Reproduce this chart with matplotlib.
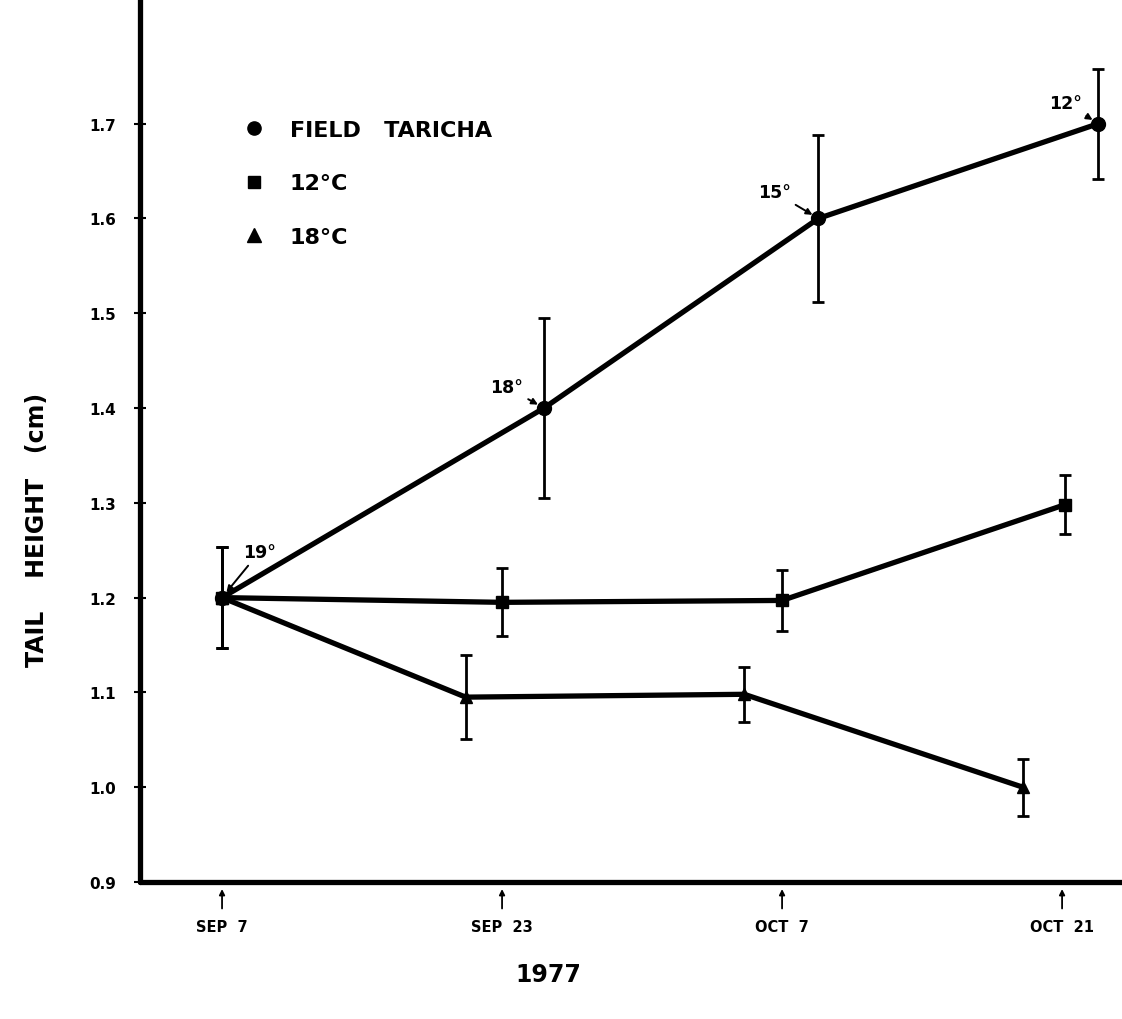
import matplotlib
matplotlib.use("Agg")
import matplotlib.pyplot as plt
from matplotlib.lines import Line2D
import matplotlib.transforms as mtransforms

# ---- data ----
tick_pos = [0, 1, 2, 3]
tick_labels = ["SEP  7", "SEP  23", "OCT  7", "OCT  21"]

field_x = [0.0, 1.15, 2.13, 3.13]
field_y = [1.20, 1.40, 1.60, 1.70]
field_err = [0.053, 0.095, 0.088, 0.058]
field_temps = ["19°", "18°", "15°", "12°"]

c12_x = [0.0, 1.0, 2.0, 3.01]
c12_y = [1.20, 1.195, 1.197, 1.298]
c12_err = [0.053, 0.036, 0.032, 0.031]

c18_x = [0.0, 0.87, 1.865, 2.86]
c18_y = [1.20, 1.095, 1.098, 1.00]
c18_err = [0.053, 0.044, 0.029, 0.030]

y_ticks = [0.9, 1.0, 1.1, 1.2, 1.3, 1.4, 1.5, 1.6, 1.7]
y_tick_labels = ["0.9", "1.0", "1.1", "1.2", "1.3", "1.4", "1.5", "1.6", "1.7"]

# ---- figure ----
W, H = 1122, 1020
fig = plt.figure(figsize=(W / 100, H / 100), dpi=100)
plt.rcParams["font.family"] = ["DejaVu Sans"]
plt.rcParams["font.weight"] = "bold"

ax_left, ax_bottom_px = 140, 883
ax = fig.add_axes([ax_left / W, (H - ax_bottom_px) / H, (W - ax_left) / W, ax_bottom_px / H])

line_kw = dict(color="black", lw=3.8, elinewidth=2.0, capsize=4.3, capthick=2.0, ecolor="black")
ax.errorbar(field_x, field_y, yerr=field_err, marker="o", ms=10, mfc="black", mec="black", **line_kw)
ax.errorbar(c12_x, c12_y, yerr=c12_err, marker="s", ms=8, mfc="black", mec="black", **line_kw)
ax.errorbar(c18_x, c18_y, yerr=c18_err, marker="^", ms=8.5, mfc="black", mec="black", **line_kw)

# temperature annotations on field points
offsets = [(27, 33), (-27, 15), (-32, 19), (-24, 15)]
for x, y, t, off in zip(field_x, field_y, field_temps, offsets):
    ax.annotate(t, xy=(x, y), xytext=off, textcoords="offset points",
                ha="center", va="center", fontsize=12.5, fontweight="bold",
                arrowprops=dict(arrowstyle="-|>", color="black", lw=1.4,
                                mutation_scale=9, shrinkA=2, shrinkB=5))

# axes styling
ax.set_xlim(-0.293, 3.214)
ax.set_ylim(0.9, 0.9 + ax_bottom_px / 948)
for s in ["top", "right"]:
    ax.spines[s].set_visible(False)
for s in ["left", "bottom"]:
    ax.spines[s].set_linewidth(3.8)
    ax.spines[s].set_capstyle("round")

ax.set_yticks(y_ticks)
ax.set_yticklabels(y_tick_labels, fontsize=11, fontweight="bold")
ax.tick_params(axis="y", direction="inout", length=8, width=1.5, pad=13)

ax.set_xticks(tick_pos)
ax.set_xticklabels(tick_labels, fontsize=10.5, fontweight="bold")
ax.tick_params(axis="x", length=0, pad=27)

# small arrows pointing to the sampling dates
trans = mtransforms.blended_transform_factory(ax.transData, ax.transAxes)
for t in tick_pos:
    ax.annotate("", xy=(t, -0.008), xytext=(t, -0.030), xycoords=trans, textcoords=trans,
                arrowprops=dict(arrowstyle="-|>", color="black", lw=1.3, mutation_scale=8,
                                shrinkA=0, shrinkB=0), annotation_clip=False)

# legend
handles = [
    Line2D([], [], ls="none", marker="o", ms=9.5, color="black"),
    Line2D([], [], ls="none", marker="s", ms=8, color="black"),
    Line2D([], [], ls="none", marker="^", ms=10, color="black"),
]
labels = ["FIELD   TARICHA", "12°C", "18°C"]
fig.legend(handles, labels, loc="upper left", bbox_to_anchor=(243 / W, 1 - 121 / H),
           frameon=False, prop=dict(size=16, weight="bold"), handlelength=1.0,
           handletextpad=1.1, labelspacing=1.5, borderpad=0, borderaxespad=0)

fig.text(37 / W, 1 - 530 / H, "TAIL    HEIGHT   (cm)", rotation=90, ha="center", va="center",
         fontsize=17, fontweight="bold")
fig.text(548 / W, 1 - 975 / H, "1977", ha="center", va="center", fontsize=17, fontweight="bold")

fig.savefig("out.png", dpi=100, facecolor="white")
